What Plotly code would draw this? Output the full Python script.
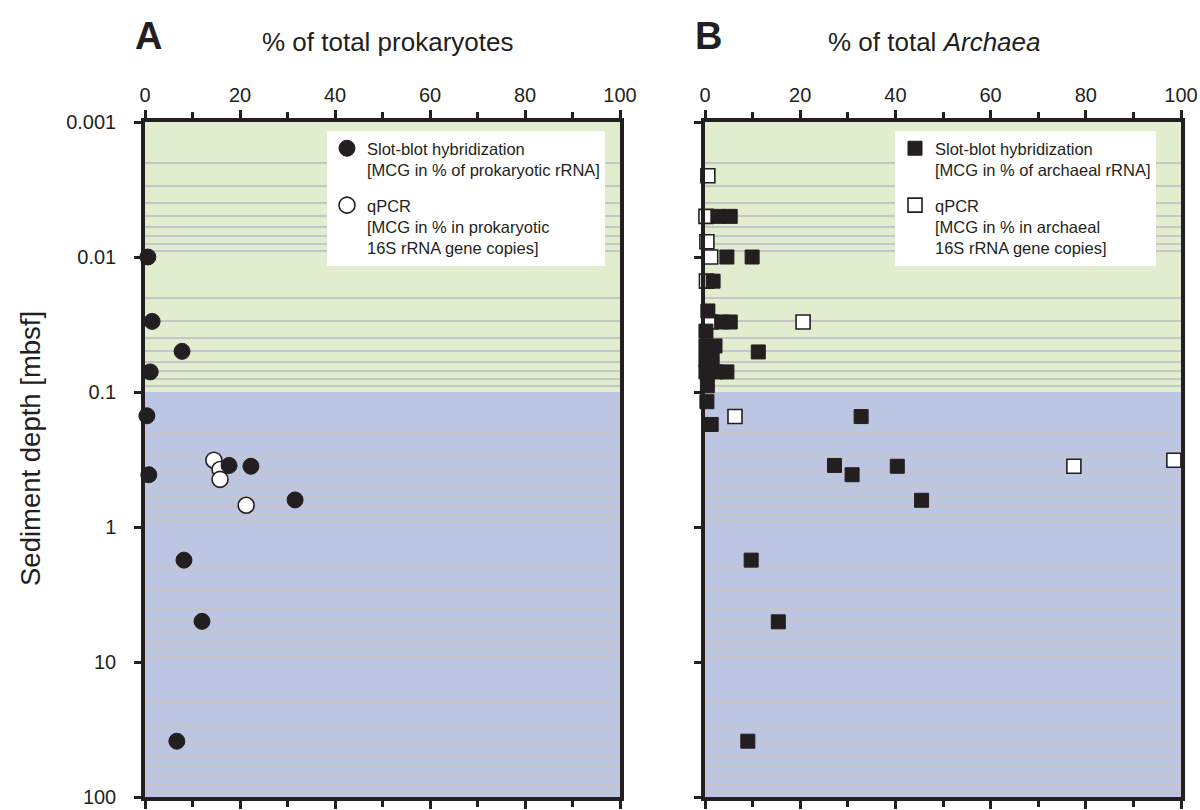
import plotly.graph_objects as go

# ---------------- data ----------------
# Panel A: MCG as % of total prokaryotes
A_slot_pct = [0.6, 1.5, 7.8, 1.1, 0.4, 0.8, 17.7, 22.3, 31.6, 8.2, 12.0, 6.7]
A_slot_depth = [0.010, 0.030, 0.050, 0.071, 0.15, 0.41, 0.35, 0.355, 0.63, 1.76, 5.0, 38.6]
A_qpcr_pct = [14.5, 15.8, 15.8, 21.3]
A_qpcr_depth = [0.32, 0.375, 0.444, 0.69]

# Panel B: MCG as % of total Archaea
B_slot_pct = [2.7, 5.3, 4.6, 9.9, 1.7, 0.6, 3.5, 5.3, 0.2, 0.2, 2.1, 11.2,
              0.2, 1.5, 0.2, 2.3, 4.6, 0.5, 0.4, 1.3,
              32.8, 27.2, 30.9, 40.4, 45.5, 9.7, 15.4, 9.0]
B_slot_depth = [0.005, 0.005, 0.010, 0.010, 0.0151, 0.0251, 0.0303, 0.0303, 0.0354, 0.0456, 0.0456, 0.0505,
                0.058, 0.058, 0.071, 0.071, 0.071, 0.090, 0.118, 0.174,
                0.152, 0.35, 0.41, 0.355, 0.634, 1.76, 5.04, 38.6]
B_qpcr_pct = [0.6, 0.2, 0.4, 1.2, 0.3, 1.2, 20.6, 6.3, 77.5, 98.5]
B_qpcr_depth = [0.0025, 0.005, 0.0077, 0.010, 0.0151, 0.0303, 0.0303, 0.152, 0.355, 0.32]

y_tick_vals = [0.001, 0.01, 0.1, 1, 10, 100]
y_tick_text = ["0.001", "0.01", "0.1", "1", "10", "100"]
x_tick_vals = [0, 20, 40, 60, 80, 100]
zone_top, zone_boundary, zone_bottom = 0.001, 0.1, 100  # shaded depth zones

legend_A = ["Slot-blot hybridization<br>[MCG in % of prokaryotic rRNA]",
            "qPCR<br>[MCG in % in prokaryotic<br>16S rRNA gene copies]"]
legend_B = ["Slot-blot hybridization<br>[MCG in % of archaeal rRNA]",
            "qPCR<br>[MCG in % in archaeal<br>16S rRNA gene copies]"]

# ---------------- style ----------------
INK = "#231f20"
GREEN = "#e2ecce"
BLUE = "#bcc5e1"
GRID = "#c6c6c8"
FONT = "Liberation Sans, Arial, sans-serif"
W, H = 1200, 810

minor_vals = [m * 10 ** e for e in range(-3, 2) for m in range(2, 10)]

fig = go.Figure()

# open symbols first (drawn underneath), filled on top
fig.add_trace(go.Scatter(
    x=A_qpcr_pct, y=A_qpcr_depth, mode="markers", name=legend_A[1],
    marker=dict(symbol="circle", size=16, color="white", line=dict(color=INK, width=1.6)),
    xaxis="x", yaxis="y", legend="legend", legendgroup="aq", legendrank=2, cliponaxis=False))
fig.add_trace(go.Scatter(
    x=A_slot_pct, y=A_slot_depth, mode="markers", name=legend_A[0],
    marker=dict(symbol="circle", size=16, color=INK, line=dict(color=INK, width=1)),
    xaxis="x", yaxis="y", legend="legend", legendgroup="as", legendrank=1, cliponaxis=False))
fig.add_trace(go.Scatter(
    x=B_qpcr_pct, y=B_qpcr_depth, mode="markers", name=legend_B[1],
    marker=dict(symbol="square", size=14, color="white", line=dict(color=INK, width=1.6)),
    xaxis="x2", yaxis="y2", legend="legend2", legendgroup="bq", legendrank=2, cliponaxis=False))
fig.add_trace(go.Scatter(
    x=B_slot_pct, y=B_slot_depth, mode="markers", name=legend_B[0],
    marker=dict(symbol="square", size=14, color=INK, line=dict(color=INK, width=1)),
    xaxis="x2", yaxis="y2", legend="legend2", legendgroup="bs", legendrank=1, cliponaxis=False))

y_dom = [1 - 797 / H, 1 - 122 / H]
xA_dom = [145 / W, 620 / W]
xB_dom = [705 / W, 1181 / W]

def xaxis_cfg(dom, anchor):
    return dict(
        domain=dom, range=[0, 100], side="top", anchor=anchor,
        tickmode="array", tickvals=x_tick_vals,
        ticks="outside", ticklen=8, tickwidth=3, tickcolor=INK,
        showline=True, linewidth=3.5, linecolor=INK, mirror="ticks",
        showgrid=False, zeroline=False, automargin=False,
        ticklabeloverflow="allow",
        tickfont=dict(family=FONT, size=20, color=INK),
        minor=dict(dtick=10, tick0=0, ticks="outside", ticklen=6, tickwidth=3,
                   tickcolor=INK, showgrid=False),
    )

def yaxis_cfg(anchor, labels):
    return dict(
        domain=y_dom, type="log", range=[2, -3], anchor=anchor,
        tickmode="array", tickvals=y_tick_vals, ticktext=y_tick_text,
        showticklabels=labels, ticklabelstandoff=14, ticklabeloverflow="allow",
        ticks="outside", ticklen=7, tickwidth=3, tickcolor=INK,
        showline=True, linewidth=3.5, linecolor=INK, mirror=True,
        showgrid=False, zeroline=False, automargin=False,
        tickfont=dict(family=FONT, size=20, color=INK),
        minor=dict(tickmode="array", tickvals=minor_vals, ticks="",
                   showgrid=True, gridcolor=GRID, gridwidth=1.5),
    )

shapes = []
for xr, yr in (("x domain", "y"), ("x2 domain", "y2")):
    shapes.append(dict(type="rect", xref=xr, yref=yr, x0=0, x1=1,
                       y0=zone_top, y1=zone_boundary,
                       fillcolor=GREEN, line=dict(width=0), layer="below"))
    shapes.append(dict(type="rect", xref=xr, yref=yr, x0=0, x1=1,
                       y0=zone_boundary, y1=zone_bottom,
                       fillcolor=BLUE, line=dict(width=0), layer="below"))

legend_common = dict(
    xanchor="left", yanchor="top", bgcolor="white", borderwidth=0,
    font=dict(family=FONT, size=16.5, color=INK), valign="top",
    traceorder="grouped", tracegroupgap=11, itemsizing="trace",
)

def ann(text, x, y, size, angle=0):
    return dict(text=text, x=x / W, y=1 - y / H, xref="paper", yref="paper",
                xanchor="center", yanchor="middle", showarrow=False, textangle=angle,
                font=dict(family=FONT, size=size, color=INK))

annotations = [
    ann("<b>A</b>", 148, 36, 38),
    ann("<b>B</b>", 708, 36, 38),
    ann("% of total prokaryotes", 387, 42, 26),
    ann("% of total <i>Archaea</i>", 934, 42, 26),
    ann("Sediment depth [mbsf]", 30, 449, 27.5, -90),
]

fig.update_layout(
    width=W, height=H, margin=dict(l=0, r=0, t=0, b=0, pad=0, autoexpand=False),
    paper_bgcolor="white", plot_bgcolor="white",
    font=dict(family=FONT, color=INK),
    xaxis=xaxis_cfg(xA_dom, "y"),
    yaxis=yaxis_cfg("x", True),
    xaxis2=xaxis_cfg(xB_dom, "y2"),
    yaxis2=yaxis_cfg("x2", False),
    shapes=shapes,
    annotations=annotations,
    legend=dict(x=327 / W, y=1 - 131 / H, **legend_common),
    legend2=dict(x=895 / W, y=1 - 131 / H, **legend_common),
    showlegend=True,
)

fig.write_html(
    "out.html",
    post_script="document.body.style.margin='0';document.body.style.overflow='hidden';",
)
